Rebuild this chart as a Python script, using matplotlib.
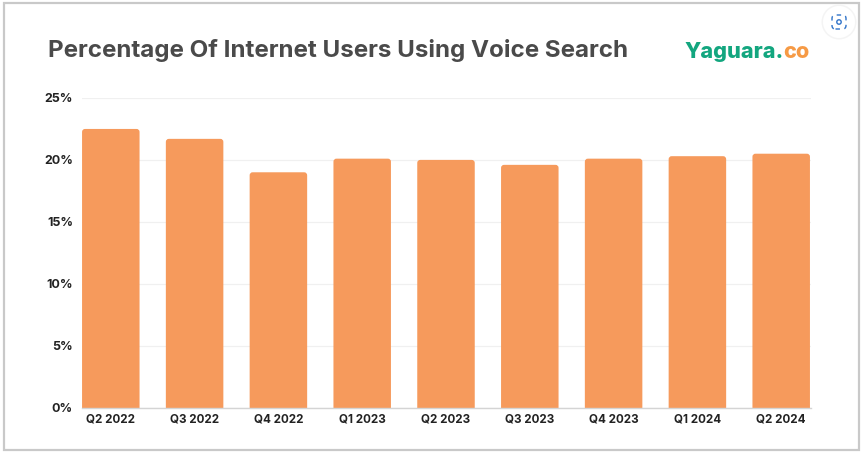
import matplotlib
matplotlib.use("Agg")
import matplotlib.pyplot as plt
from matplotlib.patches import FancyBboxPatch, Rectangle, Circle

quarters = ["Q2 2022", "Q3 2022", "Q4 2022", "Q1 2023", "Q2 2023", "Q3 2023", "Q4 2023", "Q1 2024", "Q2 2024"]
usage = [22.5, 21.7, 19.0, 20.1, 20.0, 19.6, 20.1, 20.3, 20.5]
yticks = [0, 5, 10, 15, 20, 25]
ylabels = ["0%", "5%", "10%", "15%", "20%", "25%"]

W, H = 861, 453
fig = plt.figure(figsize=(W / 100, H / 100), dpi=100, facecolor="white")
FONT = "Inter"

def fx(p): return p / W
def fy(p): return 1 - p / H

# outer frame
fig.add_artist(Rectangle((fx(4), fy(450)), (858.5 - 4) / W, (450 - 2.5) / H, transform=fig.transFigure,
                         fc="white", ec="#c9c9c9", lw=1.6, zorder=-5))

L, R, T, B = 82, 811, 98, 407.5
ax = fig.add_axes([fx(L), fy(B), (R - L) / W, (B - T) / H])
ax.set_facecolor("none")
pitch = 83.8
ax.set_xlim(-(110.8 - L) / pitch, (R - 110.8) / pitch)
ax.set_ylim(0, 25)
ppu = (B - T) / 25
bw = 57.5 / pitch
rad = 3 / pitch
for i, v in enumerate(usage):
    ax.add_patch(FancyBboxPatch((i - bw / 2, -2), bw, v + 2,
                                boxstyle=f"round,pad=0,rounding_size={rad}",
                                mutation_aspect=pitch / ppu,
                                fc="#f69a5c", ec="none", zorder=3))
ax.set_yticks(yticks, ylabels)
ax.set_xticks(range(len(quarters)), quarters)
ax.grid(axis="y", color="#f0f0f0", lw=0.9, zorder=0)
ax.grid(axis="x", visible=False)
for s in ["top", "left", "right"]:
    ax.spines[s].set_visible(False)
ax.spines["bottom"].set_color("#d4d4d4")
ax.spines["bottom"].set_linewidth(1)
ax.spines["bottom"].set_zorder(4)
ax.tick_params(length=0)
ax.tick_params(axis="x", pad=4)
ax.tick_params(axis="y", pad=6.5)
for t in ax.get_xticklabels():
    t.set_fontfamily(FONT)
    t.set_fontsize(8.4)
    t.set_fontweight("bold")
    t.set_color("#222222")
for t in ax.get_yticklabels():
    t.set_fontfamily(FONT)
    t.set_fontsize(9)
    t.set_fontweight("bold")
    t.set_color("#222222")

fig.text(fx(48), fy(51), "Percentage Of Internet Users Using Voice Search", family=FONT,
         fontsize=17.4, fontweight="bold", color="#4a4a4a", va="center", ha="left")

fig.text(fx(684), fy(52), "Yaguara.", family=FONT, fontsize=15.6, fontweight="heavy",
         color="#13a67f", va="center", ha="left")
fig.text(fx(783.5), fy(52), "co", family=FONT, fontsize=15.6, fontweight="heavy",
         color="#f69a45", va="center", ha="left")

# lens button in the corner
for r, c in [(17.5, "#f4f4f4"), (16, "#ffffff")]:
    fig.add_artist(plt.Circle((839, H - 22), r, transform=None, fc=c, ec="none"))
fig.add_artist(FancyBboxPatch((832, H - 29), 14, 14, boxstyle="round,pad=0,rounding_size=3.5", transform=None,
                              fc="none", ec="#2f73c9", lw=1.0, ls=(0, (3.2, 3.2))))
fig.add_artist(plt.Circle((839, H - 22), 2.2, transform=None, fc="none", ec="#2f73c9", lw=1.0))

fig.savefig("out.png", dpi=100)
